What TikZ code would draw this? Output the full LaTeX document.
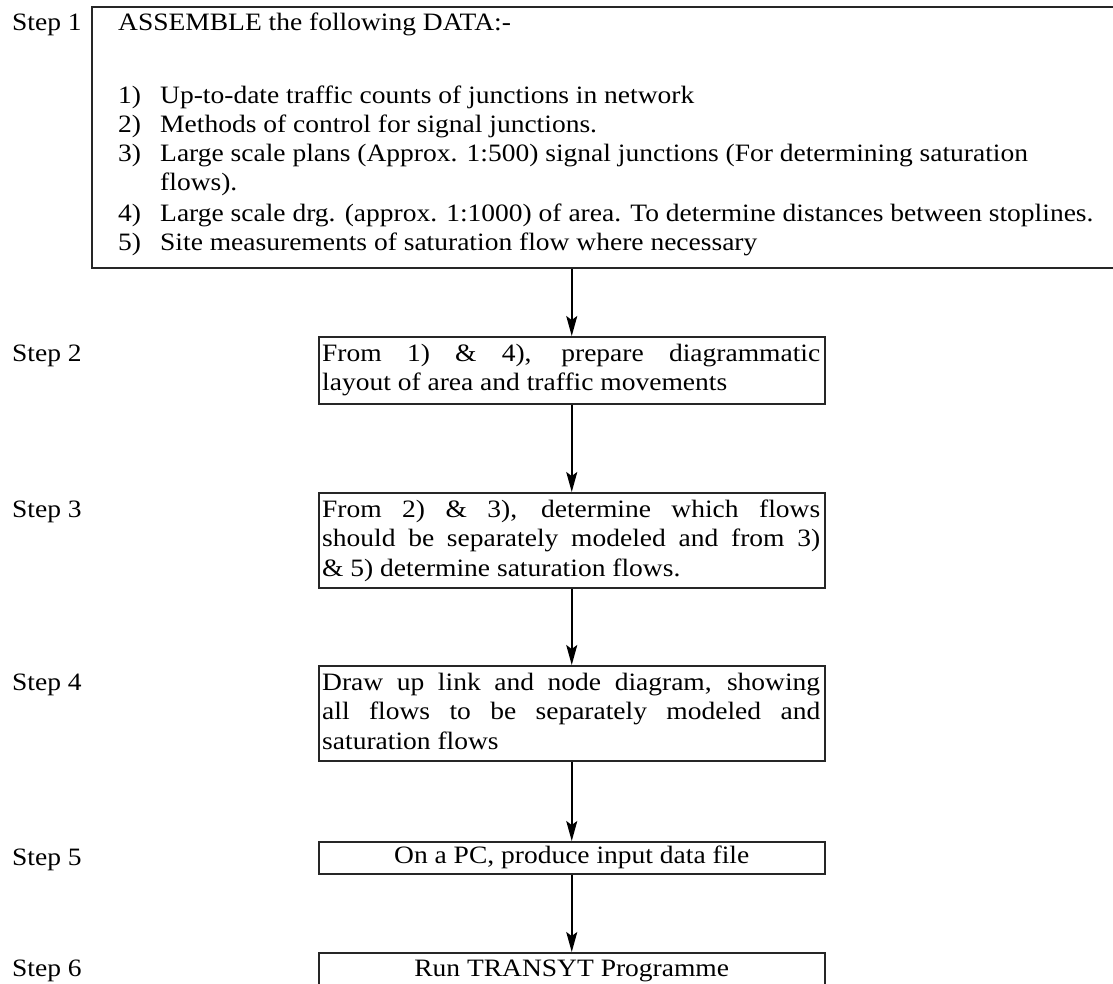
\documentclass[tikz,border=0pt]{standalone}
\usepackage{fontspec}
\setmainfont{Liberation Serif}[FakeStretch=1.1]
\usetikzlibrary{arrows.meta}
\begin{document}
\begin{tikzpicture}[x=1pt,y=-1pt,
  box/.style={draw=black!85, line width=1.5pt, rectangle, inner sep=0pt},
  txt/.style={font=\fontsize{25}{28}\selectfont, inner sep=0pt, anchor=base west},
  ctxt/.style={font=\fontsize{25}{28}\selectfont, inner sep=0pt},
  flow/.style={-{Stealth[length=20pt,width=11pt,inset=4pt]}, line width=1.5pt},
]
\useasboundingbox (0,0) rectangle (1113,983);
% boxes
\node[box, minimum width=1029pt, minimum height=261pt, anchor=north west] (b1) at (91,6) {};
\node[box, minimum width=506pt, minimum height=67pt, anchor=north west] (b2) at (318,336) {};
\node[box, minimum width=506pt, minimum height=95pt, anchor=north west] (b3) at (318,492) {};
\node[box, minimum width=506pt, minimum height=95pt, anchor=north west] (b4) at (318,665) {};
\node[box, minimum width=506pt, minimum height=32pt, anchor=north west] (b5) at (318,841) {};
\node[box, minimum width=506pt, minimum height=34pt, anchor=north west] (b6) at (318,952) {};
% step labels
\node[txt] (s1) at (12,30) {Step 1};
\node[txt] (s2) at (12,361) {Step 2};
\node[txt] (s3) at (12,517) {Step 3};
\node[txt] (s4) at (12,690) {Step 4};
\node[txt] (s5) at (12,865) {Step 5};
\node[txt] (s6) at (12,976) {Step 6};
% box 1 text
\node[txt] (t1) at (118,30) {ASSEMBLE the following DATA:-};
\node[txt] (n1) at (118,103) {1)};
\node[txt] (i1) at (160,103) {Up-to-date traffic counts of junctions in network};
\node[txt] (n2) at (118,132) {2)};
\node[txt] (i2) at (160,132) {Methods of control for signal junctions.};
\node[txt] (n3) at (118,161) {3)};
\node[txt] (i3) at (160,161) {Large scale plans (Approx. 1:500) signal junctions (For determining saturation};
\node[txt] (i3b) at (160,190) {flows).};
\node[txt] (n4) at (118,221) {4)};
\node[txt] (i4) at (160,221) {Large scale drg. (approx. 1:1000) of area. To determine distances between stoplines.};
\node[txt] (n5) at (118,250) {5)};
\node[txt] (i5) at (160,250) {Site measurements of saturation flow where necessary};
% box 2 text
\node[txt] (t2a) at (322,361) {\makebox[498pt][s]{From 1) \& 4), prepare diagrammatic}};
\node[txt] (t2b) at (322,390) {layout of area and traffic movements};
% box 3 text
\node[txt] (t3a) at (322,517) {\makebox[498pt][s]{From 2) \& 3), determine which flows}};
\node[txt] (t3b) at (322,546.5) {\makebox[498pt][s]{should be separately modeled and from 3)}};
\node[txt] (t3c) at (322,576) {\& 5) determine saturation flows.};
% box 4 text
\node[txt] (t4a) at (322,690) {\makebox[498pt][s]{Draw up link and node diagram, showing}};
\node[txt] (t4b) at (322,719.5) {\makebox[498pt][s]{all flows to be separately modeled and}};
\node[txt] (t4c) at (322,749) {saturation flows};
% box 5, 6 text
\node[ctxt] (t5) at (b5.center) {On a PC, produce input data file};
\node[ctxt] (t6) at ([yshift=-1pt]b6.center) {Run TRANSYT Programme};
% arrows
\draw[flow] (b2.north |- b1.south) -- (b2.north);
\draw[flow] (b2.south) -- (b3.north);
\draw[flow] (b3.south) -- (b4.north);
\draw[flow] (b4.south) -- (b5.north);
\draw[flow] (b5.south) -- (b6.north);
\end{tikzpicture}
\end{document}
